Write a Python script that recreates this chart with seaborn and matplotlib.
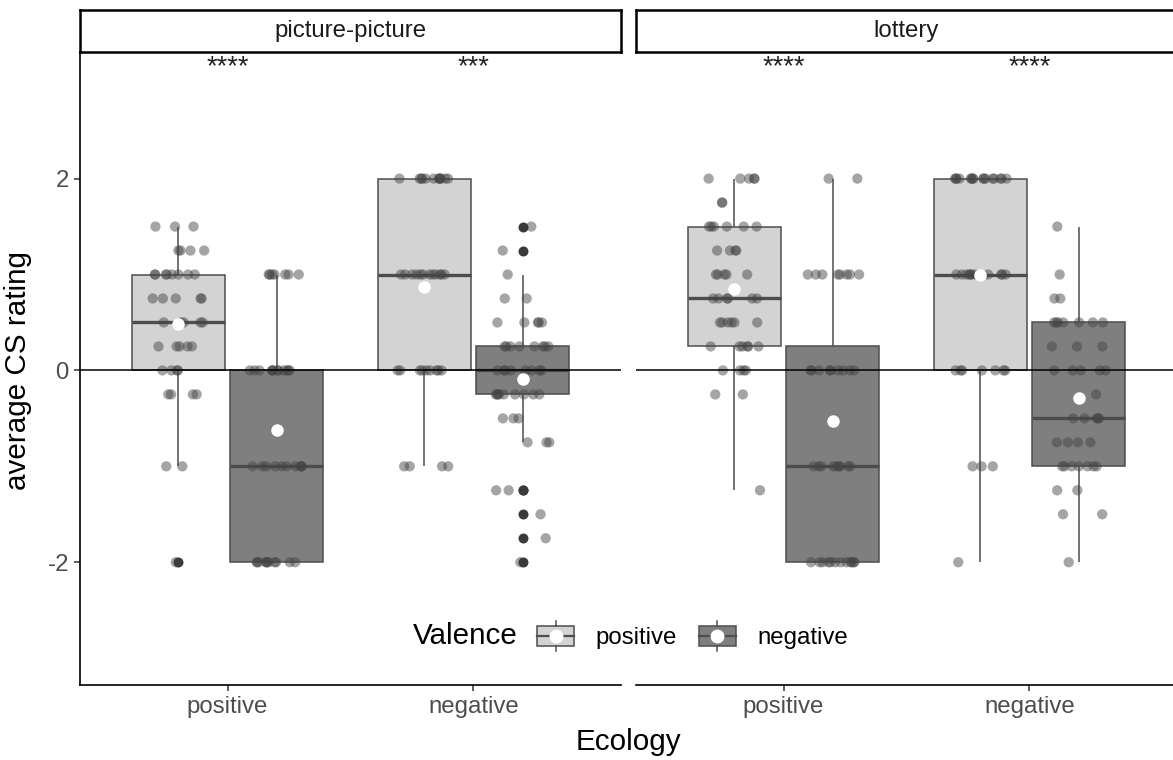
import numpy as np
import pandas as pd
import matplotlib
matplotlib.use("Agg")
import matplotlib.pyplot as plt
import seaborn as sns
from matplotlib.patches import Rectangle, Patch
from matplotlib.lines import Line2D
from matplotlib.legend_handler import HandlerBase

# ---------------- data ----------------
tasks = ["picture-picture", "lottery"]
ecologies = ["positive", "negative"]
valences = ["positive", "negative"]
y_ticks = [-2, 0, 2]
signif_pp = ["****", "***"]
signif_lot = ["****", "****"]

# rating levels and number of participants at each level, per group
pp_pos_pos_lv = [1.5, 1.25, 1.0, 0.75, 0.5, 0.25, 0.0, -0.25, -1.0, -2.0]
pp_pos_pos_n = [3, 4, 8, 5, 5, 5, 4, 4, 2, 1]
pp_pos_neg_lv = [1.0, 0.0, -1.0, -2.0]
pp_pos_neg_n = [7, 12, 10, 11]
pp_neg_pos_lv = [2.0, 1.0, 0.0, -1.0]
pp_neg_pos_n = [12, 12, 9, 4]
pp_neg_neg_lv = [1.5, 1.25, 1.0, 0.75, 0.5, 0.25, 0.0, -0.25, -0.5, -0.75, -1.25, -1.5, -1.75, -2.0]
pp_neg_neg_n = [1, 1, 1, 2, 5, 8, 8, 9, 3, 3, 2, 1, 1, 1]
lot_pos_pos_lv = [2.0, 1.75, 1.5, 1.25, 1.0, 0.75, 0.5, 0.25, 0.0, -0.25, -1.25]
lot_pos_pos_n = [5, 2, 6, 4, 5, 6, 6, 6, 4, 2, 1]
lot_pos_neg_lv = [2.0, 1.0, 0.0, -1.0, -2.0]
lot_pos_neg_n = [2, 8, 9, 9, 12]
lot_neg_pos_lv = [2.0, 1.0, 0.0, -1.0, -2.0]
lot_neg_pos_n = [16, 11, 7, 3, 1]
lot_neg_neg_lv = [1.5, 1.0, 0.75, 0.5, 0.25, 0.0, -0.25, -0.5, -0.75, -1.0, -1.25, -1.5, -2.0]
lot_neg_neg_n = [1, 1, 2, 7, 3, 5, 1, 5, 4, 7, 2, 2, 1]

groups = [
    ("picture-picture", "positive", "positive", pp_pos_pos_lv, pp_pos_pos_n),
    ("picture-picture", "positive", "negative", pp_pos_neg_lv, pp_pos_neg_n),
    ("picture-picture", "negative", "positive", pp_neg_pos_lv, pp_neg_pos_n),
    ("picture-picture", "negative", "negative", pp_neg_neg_lv, pp_neg_neg_n),
    ("lottery", "positive", "positive", lot_pos_pos_lv, lot_pos_pos_n),
    ("lottery", "positive", "negative", lot_pos_neg_lv, lot_pos_neg_n),
    ("lottery", "negative", "positive", lot_neg_pos_lv, lot_neg_pos_n),
    ("lottery", "negative", "negative", lot_neg_neg_lv, lot_neg_neg_n),
]
rows = []
for task, eco, val, lv, n in groups:
    for r in np.repeat(lv, n):
        rows.append({"task": task, "Ecology": eco, "Valence": val, "rating": float(r)})
df = pd.DataFrame(rows)

# ---------------- style ----------------
plt.rcParams["font.family"] = ["Liberation Sans", "DejaVu Sans"]
W, H = 1173, 760
fig = plt.figure(figsize=(W / 100, H / 100), dpi=100)

fill_pal = {"positive": "#D3D3D3", "negative": "#7F7F7F"}
edge_col = "#4D4D4D"
pt_pal = {"positive": "#444444", "negative": "#444444"}
mean_pal = {"positive": "white", "negative": "white"}
tick_fs = 17.3
title_fs = 21.3

panel_left = [80, 636]
panel_w = 541
top_px, bottom_px = 52, 685

np.random.seed(7)
for i, task in enumerate(tasks):
    ax = fig.add_axes([panel_left[i] / W, 1 - bottom_px / H, panel_w / W, (bottom_px - top_px) / H])
    sub = df[df["task"] == task]
    sns.boxplot(data=sub, x="Ecology", y="rating", hue="Valence", order=ecologies,
                hue_order=valences, palette=fill_pal, saturation=1, width=0.8, gap=0.06,
                linecolor=edge_col, linewidth=1.1, whis=1.5, showcaps=False,
                flierprops=dict(marker="o", markerfacecolor="#3a3a3a", markeredgecolor="#3a3a3a",
                                markersize=7.2, markeredgewidth=0),
                medianprops=dict(linewidth=2.4, color=edge_col),
                legend=False, ax=ax)
    sns.stripplot(data=sub, x="Ecology", y="rating", hue="Valence", order=ecologies,
                  hue_order=valences, palette=pt_pal, dodge=True, jitter=0.22, size=7.4,
                  alpha=0.48, linewidth=0, legend=False, ax=ax, zorder=3)
    ax.axhline(0, color="black", lw=1.1, zorder=4)
    sns.pointplot(data=sub, x="Ecology", y="rating", hue="Valence", order=ecologies,
                  hue_order=valences, palette=mean_pal, dodge=0.4, estimator="mean",
                  errorbar=None, linestyle="none", markers="o", markersize=9,
                  markeredgewidth=0, legend=False, ax=ax)
    for coll in ax.lines[-4:]:
        coll.set_zorder(6)
    ax.set_xlim(-0.6, 1.6)
    ax.set_ylim(-3.28, 3.32)
    ax.set_xlabel("")
    ax.set_ylabel("")
    sig = signif_pp if task == "picture-picture" else signif_lot
    for j, s in enumerate(sig):
        ax.text(j, 3.16, s, ha="center", va="center", fontsize=19.5, color="#222222")
    for sp in ["top", "right"]:
        ax.spines[sp].set_visible(False)
    ax.spines["bottom"].set_linewidth(1.2)
    ax.spines["bottom"].set_color("black")
    ax.tick_params(axis="x", length=4, width=1.1, color="#333333", labelsize=tick_fs,
                   labelcolor="#4D4D4D", pad=4)
    if i == 0:
        ax.set_yticks(y_ticks)
        ax.set_yticklabels([str(t) for t in y_ticks])
        ax.spines["left"].set_linewidth(1.2)
        ax.spines["left"].set_color("black")
        ax.tick_params(axis="y", length=4, width=1.1, color="#333333", labelsize=tick_fs,
                       labelcolor="#4D4D4D", pad=4)
    else:
        ax.spines["left"].set_visible(False)
        ax.tick_params(axis="y", left=False, labelleft=False)
    ax.set_facecolor("none")

    # facet strip
    sax = fig.add_axes([panel_left[i] / W, 1 - top_px / H, panel_w / W, 42 / H])
    sax.set_xticks([])
    sax.set_yticks([])
    for sp in sax.spines.values():
        sp.set_linewidth(1.8)
        sp.set_color("black")
    sax.text(0.5, 0.5, task, ha="center", va="center", fontsize=tick_fs, color="#1A1A1A",
             transform=sax.transAxes)

# axis titles
fig.text(628 / W, 1 - 742 / H, "Ecology", ha="center", va="center", fontsize=title_fs)
fig.text(18 / W, 1 - 370 / H, "average CS rating", ha="center", va="center",
         rotation=90, fontsize=title_fs)


# legend with boxplot-style keys
class BoxKeyHandler(HandlerBase):
    def create_artists(self, legend, orig_handle, xdescent, ydescent, width, height,
                       fontsize, trans):
        x0, y0 = -xdescent, -ydescent
        fc = orig_handle.get_facecolor()
        rect = Rectangle((x0, y0 + 0.17 * height), width, 0.66 * height, facecolor=fc,
                         edgecolor=edge_col, lw=1.1, transform=trans)
        cx = x0 + width / 2
        wl = Line2D([cx, cx], [y0, y0 + 0.17 * height], color=edge_col, lw=1.1, transform=trans)
        wh = Line2D([cx, cx], [y0 + 0.83 * height, y0 + height], color=edge_col, lw=1.1,
                    transform=trans)
        med = Line2D([x0, x0 + width], [y0 + height / 2] * 2, color=edge_col, lw=1.6,
                     transform=trans)
        dot = Line2D([cx], [y0 + height / 2], marker="o", ms=9, color="white", mec="white",
                     ls="none", transform=trans)
        return [rect, wl, wh, med, dot]


fig.text(413 / W, 1 - 636 / H, "Valence", ha="left", va="center", fontsize=title_fs)
fig.legend(handles=[Patch(facecolor=fill_pal["positive"]), Patch(facecolor=fill_pal["negative"])],
           labels=valences, handler_map={Patch: BoxKeyHandler()}, loc="center left",
           bbox_to_anchor=(537 / W, 1 - 636 / H), ncol=2, frameon=False, fontsize=tick_fs,
           handlelength=1.55, handleheight=1.5, handletextpad=0.9, columnspacing=0.9,
           borderpad=0, borderaxespad=0)

fig.savefig("out.png", dpi=100, facecolor="white")
